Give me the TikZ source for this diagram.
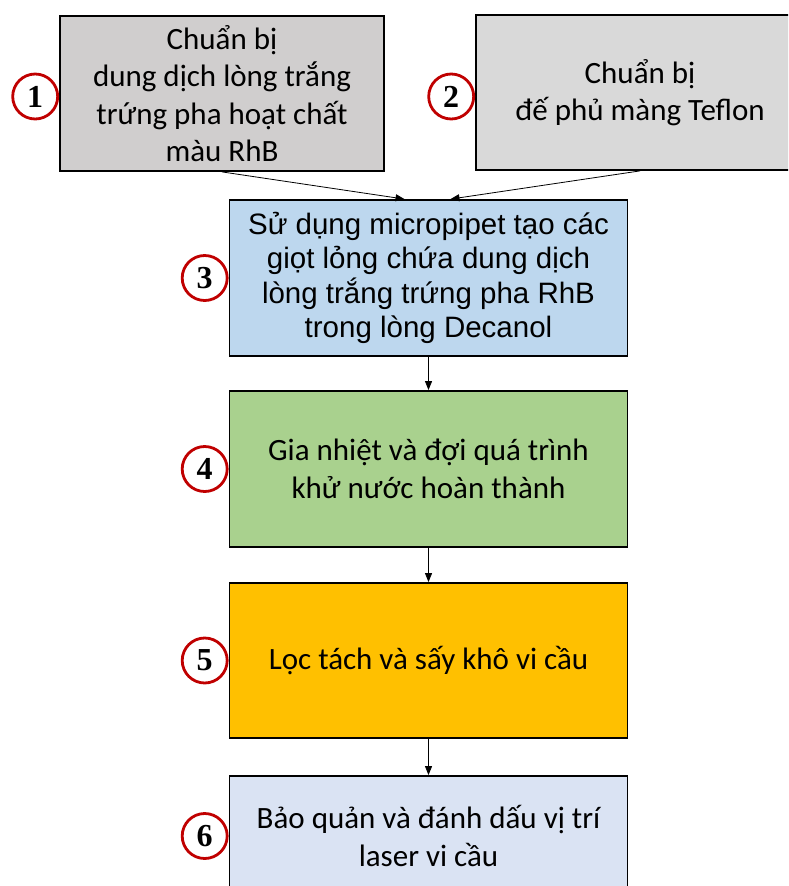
\documentclass[tikz,border=0pt]{standalone}
\usepackage{fontspec}
\setmainfont{Carlito}
\newfontfamily\arialfont{Liberation Sans}
\newfontfamily\numfont{Liberation Serif}
\usetikzlibrary{arrows.meta,calc}

\definecolor{prepgray}{HTML}{D0CECE}
\definecolor{subgray}{HTML}{D9D9D9}
\definecolor{dropblue}{HTML}{BDD7EE}
\definecolor{heatgreen}{HTML}{A9D18E}
\definecolor{dryorange}{HTML}{FFC000}
\definecolor{keepblue}{HTML}{DAE3F3}
\definecolor{ringred}{HTML}{C00000}

\begin{document}
\begin{tikzpicture}[x=1pt,y=-1pt,>={Triangle[length=9pt,width=7pt]},
	stepbox/.style={draw,line width=1.8pt,align=center,inner sep=0pt,
		font=\fontsize{31}{37.5}\selectfont},
	numring/.style={circle,draw=ringred,line width=2.8pt,minimum size=45pt,
		inner sep=0pt,fill=white,font=\numfont\bfseries\fontsize{32}{32}\selectfont}]
	
	% Frame of the page
	\useasboundingbox (0,0) rectangle (788,886);
	\clip (0,0) rectangle (788,886);
	
	% The two starting steps
	\node[stepbox,fill=prepgray,minimum width=324pt,minimum height=155pt]
		(prep) at (222,93.5) {Chuẩn bị\\dung dịch lòng trắng\\trứng pha hoạt chất\\màu RhB};
	\node[stepbox,fill=subgray,minimum width=328pt,minimum height=155pt]
		(teflon) at (640,92.5) {Chuẩn bị\\đế phủ màng Teflon};
	
	% Making the droplets
	\node[stepbox,fill=dropblue,minimum width=398pt,minimum height=156pt,
		font=\arialfont\fontsize{29.5}{34.5}\selectfont]
		(drop) at (428.5,278) {Sử dụng micropipet tạo các\\giọt lỏng chứa dung dịch\\lòng trắng trứng pha RhB\\trong lòng Decanol};
	
	% Heating, drying, keeping
	\node[stepbox,fill=heatgreen,minimum width=398pt,minimum height=156pt]
		(heat) at (428.5,469) {Gia nhiệt và đợi quá trình\\khử nước hoàn thành};
	\node[stepbox,fill=dryorange,minimum width=398pt,minimum height=155pt]
		(dry) at (428.5,660.5) {Lọc tách và sấy khô vi cầu};
	\node[stepbox,fill=keepblue,minimum width=398pt,minimum height=120pt]
		(keep) at (428.5,836) {Bảo quản và đánh dấu vị trí\\laser vi cầu};
	
	% Step numbers
	\node[numring,anchor=east] (n1) at ($(prep.west)+(0,3)$) {1};
	\node[numring,anchor=east] (n2) at ($(teflon.west)+(0,4)$) {2};
	\node[numring,anchor=east] (n3) at (drop.west) {3};
	\node[numring,anchor=east] (n4) at (heat.west) {4};
	\node[numring,anchor=east] (n5) at (dry.west) {5};
	\node[numring,anchor=east] (n6) at (keep.west) {6};
	
	% Flow
	\draw[->,line width=0.8pt] (prep.south) -- ($(drop.north)+(-24,0)$);
	\draw[->,line width=0.8pt] (teflon.south) -- ($(drop.north)+(22,0)$);
	\draw[->,line width=0.8pt] (drop.south) -- (heat.north);
	\draw[->,line width=0.8pt] (heat.south) -- (dry.north);
	\draw[->,line width=0.8pt] (dry.south) -- (keep.north);
	
\end{tikzpicture}
\end{document}
